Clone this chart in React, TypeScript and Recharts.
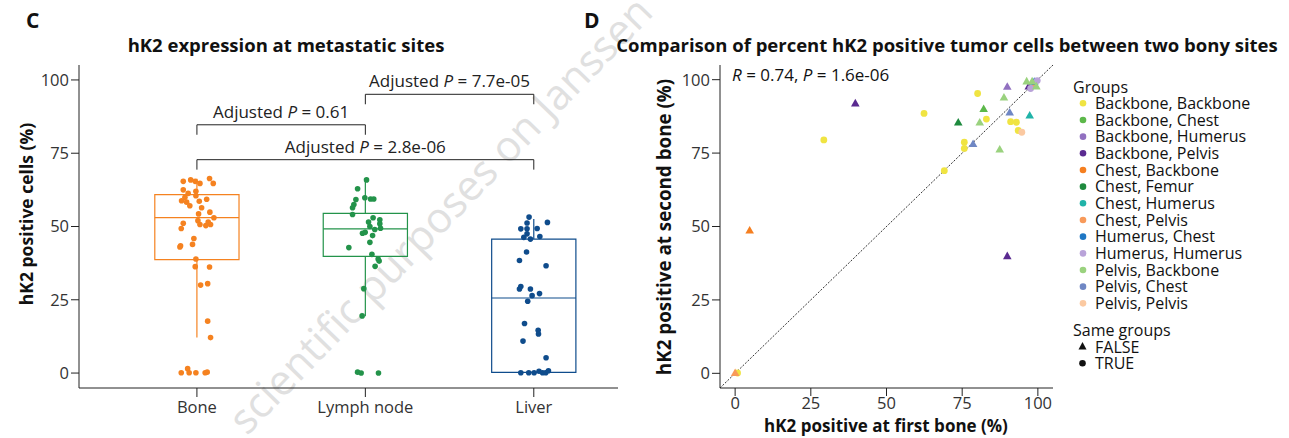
import React from "react";
import { ScatterChart, Scatter, XAxis, YAxis, ReferenceLine, ReferenceArea } from "recharts";

// ---- panel C: hK2 expression per metastatic site ----
const sites = ["Bone", "Lymph node", "Liver"];
const siteColors = ["#f58220", "#23934a", "#0f4c8c"];

// box statistics
const whiskerLow = [12.1, 19.4, 0];
const boxQ1 = [38.7, 39.8, 0.2];
const boxMedian = [53.0, 49.2, 25.6];
const boxQ3 = [60.9, 54.5, 45.7];
const whiskerHigh = [66.3, 65.9, 52.6];

// individual samples (value + horizontal jitter in category units)
const boneValues = [65.4, 65.9, 65.4, 64.7, 66.4, 64.7, 62.5, 61.3, 62.0, 60.5, 60.0, 58.8, 58.3, 57.1, 58.6, 59.3, 56.4, 54.3, 54.9, 53.0, 52.0, 50.7, 50.3, 50.7, 51.5, 51.1, 49.3, 45.9, 43.9, 43.4, 43.0, 38.9, 36.3, 36.2, 30.0, 30.5, 17.7, 12.1, 0.1, 1.5, 0.1, 0.1, 0.1, 0.3];
const boneJitter = [-0.081, -0.037, -0.01, 0.018, 0.075, 0.097, -0.081, -0.052, -0.006, -0.006, -0.071, -0.091, -0.061, -0.042, 0.014, 0.058, 0.028, 0.01, 0.077, 0.101, 0.006, 0.018, 0.053, 0.081, 0.067, -0.081, -0.093, -0.018, -0.026, -0.097, -0.101, -0.006, -0.01, 0.075, 0.022, 0.064, 0.064, 0.081, -0.093, -0.055, -0.046, -0.006, 0.049, 0.061];
const lymphValues = [65.9, 62.9, 59.2, 59.8, 59.4, 59.4, 57.5, 56.4, 54.1, 53.0, 52.3, 51.5, 50.9, 50.0, 49.0, 49.4, 47.7, 48.0, 46.9, 44.6, 42.8, 40.5, 38.9, 38.2, 36.4, 28.8, 19.5, 0.3, 0, 0];
const lymphJitter = [0.007, -0.046, -0.056, -0.003, 0.031, 0.05, -0.068, -0.076, -0.076, 0.046, 0.086, 0.019, 0.086, 0.027, 0.056, 0.09, -0.017, -0.001, 0.043, 0.027, -0.098, 0.039, 0.076, 0.082, 0.058, -0.009, -0.019, -0.046, -0.025, 0.078];
const liverValues = [53.2, 51.2, 51.4, 49.2, 49.2, 49.3, 47.5, 46.3, 45.7, 46.6, 41.3, 38.4, 36.6, 29.5, 28.7, 28.7, 26.4, 27.1, 24.5, 16.9, 14.6, 13.3, 10.9, 5.2, 0.1, 0.1, 0.1, 0.6, 0.1, 0.1, 0.8];
const liverJitter = [-0.028, -0.04, 0.081, -0.077, -0.04, 0.02, -0.04, -0.059, -0.02, 0.036, -0.043, -0.085, 0.073, -0.077, -0.085, -0.02, -0.01, 0.034, -0.036, -0.055, 0.026, 0.028, -0.064, 0.073, -0.077, -0.03, 0.002, 0.031, 0.052, 0.071, 0.087];

// pairwise comparisons: [from site, to site, bracket level, label]
const comparisons: [number, number, number, string][] = [
  [2, 3, 95.1, "7.7e-05"],
  [1, 2, 84.7, "0.61"],
  [1, 3, 72.8, "2.8e-06"],
];

// ---- panel D: first vs second bony site ----
const groupNames = ["Backbone, Backbone", "Backbone, Chest", "Backbone, Humerus", "Backbone, Pelvis", "Chest, Backbone", "Chest, Femur", "Chest, Humerus", "Chest, Pelvis", "Humerus, Chest", "Humerus, Humerus", "Pelvis, Backbone", "Pelvis, Chest", "Pelvis, Pelvis"];
const groupColors = ["#f0e442", "#5cb84a", "#9170c0", "#5a2a90", "#f57f20", "#1e8a3e", "#20b3a8", "#f89a5a", "#1f77c4", "#b9a3d9", "#9ad27e", "#6f87c4", "#fbc9a1"];
const groupSame = [true, false, false, false, false, false, false, false, false, true, false, false, true];
const firstBone = [
  [29.3, 62.4, 80.1, 83.0, 91.0, 92.9, 93.5, 75.7, 75.7, 69.1, 0.8],
  [82.1],
  [89.9],
  [39.7, 89.9, 97.0],
  [4.8],
  [73.7],
  [97.3],
  [0.0, 98.7],
  [98.8],
  [99.8, 97.6],
  [80.8, 88.8, 87.4, 96.3, 98.1, 99.5],
  [90.7, 78.6],
  [94.7],
];
const secondBone = [
  [79.5, 88.5, 95.3, 86.6, 85.7, 85.5, 82.7, 78.7, 76.6, 69.0, 0.1],
  [90.0],
  [97.6],
  [91.9, 39.9, 97.7],
  [48.6],
  [85.4],
  [87.8],
  [0.1, 98.0],
  [99.3],
  [99.7, 97.0],
  [85.4, 93.9, 76.2, 99.4, 99.4, 97.7],
  [88.8, 78.1],
  [82.1],
];
const pctTicks = [0, 25, 50, 75, 100];

const FONT = "'Open Sans', 'Noto Sans', sans-serif";
const tickStyle = { fill: "#333", fontSize: 16.5, fontFamily: FONT };
const axisLine = { stroke: "#222", strokeWidth: 1 };

const siteData = [
  boneValues.map((v, i) => ({ x: 1 + boneJitter[i], y: v })),
  lymphValues.map((v, i) => ({ x: 2 + lymphJitter[i], y: v })),
  liverValues.map((v, i) => ({ x: 3 + liverJitter[i], y: v })),
];

const pairData = groupNames.map((_, g) => firstBone[g].map((v, i) => ({ x: v, y: secondBone[g][i] })));

const dot = (color: string, r: number) => (props: any) =>
  <circle cx={props.cx} cy={props.cy} r={r} fill={color} />;

const tri = (color: string) => (props: any) => {
  const { cx, cy } = props;
  return <polygon points={`${cx},${cy - 4.6} ${cx + 4.3},${cy + 3} ${cx - 4.3},${cy + 3}`} fill={color} />;
};

const pLabel = (value: string) => (props: any) => {
  const vb = props.viewBox || {};
  return (
    <text x={vb.x + vb.width / 2} y={vb.y - 7} textAnchor="middle" fontSize={17} fill="#222" fontFamily={FONT}>
      Adjusted <tspan fontStyle="italic">P</tspan> = {value}
    </text>
  );
};

const SiteChart = () => (
  <ScatterChart width={640} height={438} margin={{ top: 65, right: 22, bottom: 20, left: 19 }}>
    <XAxis type="number" dataKey="x" domain={[0.3, 3.5]} ticks={[1, 2, 3]} allowDataOverflow
      tickFormatter={(v: number) => sites[v - 1]} tick={tickStyle} axisLine={axisLine} tickLine={axisLine}
      tickSize={9} tickMargin={4} height={30} />
    <YAxis type="number" dataKey="y" domain={[-5.1, 105.1]} ticks={pctTicks} allowDataOverflow
      tick={tickStyle} axisLine={axisLine} tickLine={axisLine} tickSize={8} tickMargin={2} width={60} />
    {sites.map((s, i) => (
      <ReferenceArea key={`box-${s}`} x1={i + 1 - 0.25} x2={i + 1 + 0.25} y1={boxQ1[i]} y2={boxQ3[i]}
        fill="none" fillOpacity={0} stroke={siteColors[i]} strokeWidth={1.2} ifOverflow="visible" />
    ))}
    {sites.map((s, i) => (
      <ReferenceLine key={`med-${s}`} segment={[{ x: i + 0.75, y: boxMedian[i] }, { x: i + 1.25, y: boxMedian[i] }]}
        stroke={siteColors[i]} strokeWidth={1.2} ifOverflow="visible" />
    ))}
    {sites.map((s, i) => (
      <ReferenceLine key={`wlo-${s}`} segment={[{ x: i + 1, y: whiskerLow[i] }, { x: i + 1, y: boxQ1[i] }]}
        stroke={siteColors[i]} strokeWidth={1.2} ifOverflow="visible" />
    ))}
    {sites.map((s, i) => (
      <ReferenceLine key={`whi-${s}`} segment={[{ x: i + 1, y: boxQ3[i] }, { x: i + 1, y: whiskerHigh[i] }]}
        stroke={siteColors[i]} strokeWidth={1.2} ifOverflow="visible" />
    ))}
    {siteData.map((d, i) => (
      <Scatter key={`pts-${i}`} data={d} shape={dot(siteColors[i], 2.8)} isAnimationActive={false} />
    ))}
    {comparisons.map(([a, b, lvl, txt]) => (
      <ReferenceLine key={`br-${txt}`} segment={[{ x: a, y: lvl }, { x: b, y: lvl }]} stroke="#222"
        strokeWidth={1} ifOverflow="visible" label={pLabel(txt)} />
    ))}
    {comparisons.map(([a, b, lvl, txt]) => (
      <ReferenceLine key={`bl-${txt}`} segment={[{ x: a, y: lvl }, { x: a, y: lvl - 3.4 }]} stroke="#222" strokeWidth={1} ifOverflow="visible" />
    ))}
    {comparisons.map(([a, b, lvl, txt]) => (
      <ReferenceLine key={`brr-${txt}`} segment={[{ x: b, y: lvl }, { x: b, y: lvl - 3.4 }]} stroke="#222" strokeWidth={1} ifOverflow="visible" />
    ))}
  </ScatterChart>
);

const PairChart = () => (
  <ScatterChart width={470} height={438} margin={{ top: 65, right: 17, bottom: 20, left: 60 }}>
    <XAxis type="number" dataKey="x" domain={[-5, 105]} ticks={pctTicks} allowDataOverflow
      tick={tickStyle} axisLine={axisLine} tickLine={axisLine} tickSize={8} tickMargin={1} height={30} />
    <YAxis type="number" dataKey="y" domain={[-5, 105]} ticks={pctTicks} allowDataOverflow
      tick={tickStyle} axisLine={axisLine} tickLine={axisLine} tickSize={8} tickMargin={2} width={60} />
    <ReferenceLine segment={[{ x: -5, y: -5 }, { x: 105, y: 105 }]} stroke="#333" strokeWidth={1}
      strokeDasharray="2 1.5" ifOverflow="visible" />
    {pairData.map((d, g) => (
      <Scatter key={groupNames[g]} data={d} isAnimationActive={false}
        shape={groupSame[g] ? dot(groupColors[g], 3.4) : tri(groupColors[g])} />
    ))}
  </ScatterChart>
);

const Overlay = () => (
  <svg width={1289} height={438} style={{ position: "absolute", left: 0, top: 0, pointerEvents: "none" }} fontFamily={FONT}>
    <text x={26} y={28} fontSize={21} fontWeight="bold" fill="#111">C</text>
    <text x={584} y={28} fontSize={21} fontWeight="bold" fill="#111">D</text>
    <text x={286} y={52} fontSize={18.5} fontWeight="bold" textAnchor="middle" fill="#111">hK2 expression at metastatic sites</text>
    <text x={947} y={52} fontSize={18.5} fontWeight="bold" textAnchor="middle" fill="#111">Comparison of percent hK2 positive tumor cells between two bony sites</text>
    <text transform="translate(33,214) rotate(-90)" fontSize={17.5} fontWeight="bold" textAnchor="middle" fill="#111">hK2 positive cells (%)</text>
    <text transform="translate(671,227) rotate(-90)" fontSize={18.8} fontWeight="bold" textAnchor="middle" fill="#111">hK2 positive at second bone (%)</text>
    <text x={886} y={432} fontSize={17} fontWeight="bold" textAnchor="middle" fill="#111">hK2 positive at first bone (%)</text>
    <text x={732} y={81} fontSize={17} fill="#111">
      <tspan fontStyle="italic">R</tspan> = 0.74, <tspan fontStyle="italic">P</tspan> = 1.6e-06
    </text>
    <text x={1073} y={93} fontSize={16} fill="#111">Groups</text>
    {groupNames.map((n, i) => (
      <g key={n}>
        <circle cx={1083} cy={103.3 + i * 16.67} r={3.3} fill={groupColors[i]} />
        <text x={1095} y={109 + i * 16.67} fontSize={16} fill="#111">{n}</text>
      </g>
    ))}
    <text x={1073} y={336} fontSize={16} fill="#111">Same groups</text>
    <polygon points="1082.5,342 1086.5,349.5 1078.5,349.5" fill="#111" />
    <text x={1095} y={352.5} fontSize={16} fill="#111">FALSE</text>
    <circle cx={1082.5} cy={363.3} r={3.3} fill="#111" />
    <text x={1095} y={369} fontSize={16} fill="#111">TRUE</text>
  </svg>
);

const Watermark = () => (
  <svg width={1289} height={438} style={{ position: "absolute", left: 0, top: 0, pointerEvents: "none" }}>
    <text transform="translate(655,14) rotate(-46)" fontSize={42} textAnchor="end" fill="#e0e0e0"
      fontFamily={FONT}>scientific purposes on Janssen</text>
  </svg>
);

export default function App() {
  return (
    <div style={{ position: "absolute", left: 0, top: 0, width: 1289, height: 438, background: "#fff", fontFamily: FONT }}>
      <Watermark />
      <div style={{ position: "absolute", left: 0, top: 0 }}>
        <SiteChart />
      </div>
      <div style={{ position: "absolute", left: 600, top: 0 }}>
        <PairChart />
      </div>
      <Overlay />
    </div>
  );
}
